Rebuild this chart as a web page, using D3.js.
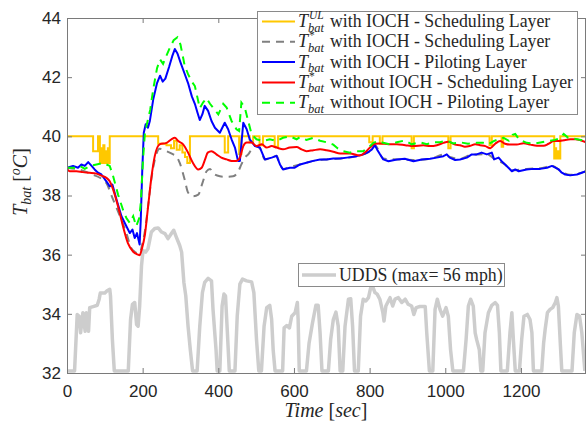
<!DOCTYPE html>
<html>
<head>
<meta charset="utf-8">
<script src="https://d3js.org/d3.v7.min.js"></script>
<style>
  body { margin: 0; background: #fff; }
  svg text { font-family: "Liberation Serif", "Times New Roman", serif; fill: #262626; }
  .tick text { font-family: "Liberation Sans", Arial, sans-serif; font-size: 17px; fill: #262626; }
  .tick line { stroke: #7a7a7a; }
</style>
</head>
<body>
<script>
// ---- data: [time (s), temperature (degC)] ----
var xTicks = [0, 200, 400, 600, 800, 1000, 1200];
var yTicks = [32, 34, 36, 38, 40, 42, 44];

// T_bat^UL with IOCH (scheduling layer), piecewise constant
var ulWithIoch = [[0,40],[69,39.5],[82,40],[87,39.1],[90,39.6],[93,39.1],[96,39.7],[99,39.1],[102,39.5],[105,39.1],[108,39.6],[111,39.1],[113,40],
  [241,39.75],[263,39.7],[275,39.6],[283,39.85],[290,39.55],[298,39.7],[305,39.45],[312,39.3],[318,39.1],[325,40],
  [417,39.45],[426,40],[455,39.4],[461,40],[483,39.8],[492,40],[509,39.7],[518,40],[549,39.65],[558,40],
  [799,39.8],[808,40],[827,39.75],[834,40],[911,39.6],[917,40],[1008,39.6],[1014,40],[1117,39.7],[1123,40],
  [1149,39.65],[1153,40],[1288,39.25],[1290,39.6],[1293,39.25],[1296,39.5],[1299,39.25],[1304,40],[1372,40]];

// T_bat* with IOCH (scheduling layer)
var schedWithIoch = [[0,38.94],[20,38.9],[40,38.85],[69,38.7],[87,38.6],[104,38.42],[122,37.86],[140,37.3],[157,36.73],[170,36.22],
  [179,36.1],[188,36.05],[192,36.05],[198,36.3],[206,36.8],[214,37.6],[223,38.55],[232,39.2],[245,39.58],[263,39.5],[281,39.39],
  [289,39.33],[298,39.1],[311,38.54],[320,38.1],[333,37.97],[347,38.03],[358,38.42],[369,38.82],[378,38.9],[386,38.75],[404,38.65],
  [422,38.63],[439,38.65],[453,38.82],[461,39.05],[470,39.28],[479,39.39],[490,39.6],[497,39.67],[510,39.6],[523,39.22],[541,39.28],
  [554,39.34],[563,39.05],[571,38.9],[589,38.96],[616,39.05],[651,39.17],[686,39.22],[722,39.25],[766,39.33],[797,39.47],[814,39.7],
  [836,39.25],[872,39.22],[916,39.2],[960,39.24],[995,39.38],[1012,39.3],[1039,39.24],[1070,39.38],[1110,39.4],[1129,39.24],
  [1158,39.05],[1176,38.85],[1215,38.9],[1251,38.92],[1282,39.0],[1308,38.8],[1330,38.7],[1372,38.82]];

// T_bat with IOCH (piloting layer)
var pilotWithIoch = [[0,38.94],[16,39.0],[29,38.94],[38,39.05],[47,39.0],[56,39.13],[65,39.0],[73,38.88],[82,38.77],[91,38.71],
  [104,38.48],[113,38.31],[120,38.37],[131,37.86],[144,37.3],[157,36.96],[166,36.73],[173,36.85],[179,36.56],[185,36.73],[192,36.34],
  [195,37.19],[199,38.88],[203,40.12],[208,40.41],[214,40.29],[219,40.52],[228,41.25],[238,41.8],[246,42.05],[253,41.85],[260,41.95],
  [270,42.35],[278,42.7],[285,42.95],[292,42.8],[300,42.5],[310,42.15],[320,41.8],[330,41.35],[338,41.1],[345,40.8],[351,40.55],
  [358,40.75],[364,41.03],[373,40.86],[382,40.52],[391,40.29],[404,40.12],[417,40.46],[426,40.24],[435,39.9],[444,39.62],[452,39.17],
  [457,39.17],[466,40.46],[475,40.24],[483,39.9],[497,39.67],[510,39.62],[523,39.22],[541,39.28],[554,39.34],[563,39.05],[571,38.88],
  [589,38.94],[602,38.94],[616,39.05],[633,39.11],[651,39.17],[669,39.22],[686,39.22],[704,39.25],[722,39.25],[740,39.28],[766,39.33],
  [783,39.39],[797,39.47],[806,39.56],[814,39.7],[820,39.55],[827,39.4],[836,39.22],[850,39.16],[872,39.22],[893,39.24],[916,39.16],
  [938,39.22],[960,39.24],[977,39.28],[995,39.33],[1004,39.39],[1012,39.28],[1026,39.2],[1039,39.22],[1057,39.28],[1070,39.39],
  [1083,39.39],[1096,39.45],[1110,39.39],[1123,39.45],[1129,39.22],[1141,39.28],[1149,39.16],[1158,39.05],[1167,38.94],[1176,38.82],
  [1185,38.88],[1194,38.82],[1215,38.88],[1233,38.9],[1251,38.9],[1269,38.94],[1282,39.0],[1291,38.94],[1300,38.88],[1308,38.77],
  [1317,38.71],[1330,38.68],[1348,38.71],[1361,38.77],[1372,38.82]];

// T_bat* without IOCH (scheduling layer)
var schedNoIoch = [[0,38.9],[7,38.82],[25,38.82],[42,38.79],[60,38.77],[78,38.74],[91,38.67],[104,38.6],[113,38.48],[122,38.2],
  [135,37.63],[148,36.96],[161,36.39],[175,36.1],[188,36.0],[192,35.98],[198,36.2],[206,36.68],[214,37.58],[223,38.6],[232,39.33],
  [245,39.73],[263,39.78],[276,39.9],[285,39.95],[294,39.84],[307,39.73],[320,39.45],[333,39.1],[347,38.88],[356,38.94],[365,39.22],
  [372,39.45],[382,39.5],[395,39.39],[408,39.28],[422,39.22],[435,39.17],[448,39.17],[457,39.28],[466,39.67],[475,39.79],[488,39.79],
  [501,39.67],[515,39.73],[528,39.62],[541,39.67],[554,39.62],[571,39.56],[589,39.62],[607,39.64],[620,39.56],[633,39.5],[651,39.53],
  [669,39.56],[686,39.53],[704,39.48],[722,39.42],[748,39.42],[774,39.35],[787,39.45],[801,39.62],[814,39.75],[827,39.76],[850,39.73],
  [872,39.73],[894,39.7],[916,39.67],[942,39.7],[960,39.67],[978,39.7],[995,39.78],[1008,39.82],[1026,39.72],[1039,39.7],[1052,39.65],
  [1066,39.68],[1079,39.73],[1092,39.7],[1106,39.67],[1119,39.6],[1132,39.75],[1145,39.84],[1158,39.75],[1172,39.72],[1189,39.72],
  [1207,39.77],[1225,39.72],[1242,39.68],[1260,39.68],[1273,39.75],[1287,39.84],[1300,39.84],[1313,39.87],[1331,39.9],[1344,39.9],
  [1357,39.87],[1372,39.8]];

// T_bat without IOCH (piloting layer)
var pilotNoIoch = [[0,38.94],[20,38.94],[34,39.0],[47,38.9],[60,39.0],[78,39.05],[95,39.1],[113,39.0],[122,38.65],[135,38.03],
  [148,37.52],[157,37.24],[166,37.07],[175,37.3],[183,36.96],[191,37.24],[195,37.75],[201,39.22],[206,40.12],[212,40.46],[220,40.9],
  [228,41.6],[238,42.3],[246,42.6],[254,42.45],[262,42.7],[272,43.0],[282,43.25],[292,43.35],[300,43.1],[311,42.4],[320,42.1],
  [330,41.85],[338,41.7],[345,41.3],[351,40.95],[360,41.15],[369,41.29],[378,41.1],[386,40.97],[400,40.74],[413,41.1],[422,40.97],
  [435,40.52],[448,40.24],[455,40.18],[461,41.14],[470,40.97],[479,40.52],[488,40.07],[501,39.9],[518,39.84],[536,39.9],[554,39.84],
  [571,39.95],[589,40.0],[607,39.9],[615,39.97],[633,39.88],[651,39.95],[669,39.85],[686,39.8],[704,39.72],[715,39.6],[730,39.5],
  [748,39.45],[766,39.5],[783,39.5],[797,39.62],[810,39.78],[823,39.84],[836,39.78],[854,39.73],[872,39.8],[893,39.86],[911,39.73],
  [933,39.8],[951,39.73],[968,39.8],[986,39.8],[1004,39.86],[1021,39.76],[1039,39.8],[1060,39.75],[1083,39.78],[1100,39.78],
  [1114,39.73],[1128,39.84],[1141,39.9],[1154,39.95],[1168,39.85],[1178,40.05],[1185,40.08],[1195,39.9],[1215,39.78],[1235,39.75],
  [1255,39.8],[1270,39.84],[1290,39.88],[1305,39.95],[1313,40.08],[1325,39.95],[1348,39.9],[1372,39.85]];

// UDDS drive cycle: [time (s), speed (mph)], drawn scaled onto the temperature axis
var uddsSpeed = [[0,0],[20,0],[27,22.2],[32,21.5],[36,15],[42,22.9],[48,15.6],[51,22.9],[57,15.6],[60,24.9],[69,25.3],[80,25.8],
  [85,28.2],[88,30.6],[100,30.6],[106,31.5],[113,32.1],[115,29.5],[120,12.3],[125,0],[162,0],[168,20.2],[173,26.2],[179,26.9],
  [184,18.2],[188,17.6],[192,25.5],[197,41.4],[201,47.4],[208,46.7],[214,48],[223,54.6],[232,56],[241,56.2],[250,54.6],[259,54],
  [267,52],[276,54],[282,55.3],[289,52.6],[298,49.3],[303,46.7],[309,34.8],[314,29.5],[320,17.6],[326,8.3],[332,0],[344,0],
  [351,17.6],[358,30.8],[364,34.8],[373,36.4],[382,35.4],[386,24.2],[394,8.3],[397,0],[404,0],[410,25.5],[415,30.2],[419,29.5],
  [424,15],[429,0],[444,0],[450,21.5],[457,34.1],[464,36.1],[475,35.4],[488,35],[494,30.8],[501,12.3],[507,0],[514,0],[521,17.6],
  [528,24.9],[536,25.8],[541,20.2],[545,8.3],[550,0],[570,0],[574,16.9],[581,17.8],[588,16.9],[594,21.5],[603,22.9],[609,26.9],
  [611,20.2],[614,0],[633,0],[640,11],[649,18.9],[658,25.8],[664,25.8],[669,15],[674,0],[691,0],[697,12.3],[704,20.2],[711,23.1],
  [717,17.6],[722,0],[729,0],[735,17.6],[744,28.2],[750,28.4],[755,17.6],[760,0],[770,0],[776,21.5],[783,28.2],[790,27.5],[797,28.8],
  [803,32.8],[808,33.2],[814,30.8],[820,30.2],[827,28.2],[835,22.9],[838,19.6],[843,25.5],[854,28.8],[861,25.5],[867,28.2],[876,28.8],
  [885,26.9],[894,28.2],[902,26.2],[911,25.5],[917,22.2],[923,24.9],[933,25.3],[947,25.3],[951,15],[958,0],[967,0],[973,24.2],
  [979,28.2],[986,24.2],[993,21.5],[1002,24.9],[1008,21.5],[1014,8.3],[1020,0],[1048,0],[1055,12.3],[1061,25.5],[1067,28.2],
  [1074,25.5],[1079,15],[1083,12.3],[1090,8.3],[1094,0],[1099,0],[1105,15],[1114,22.9],[1123,25.8],[1132,26.9],[1138,25.8],[1143,15],
  [1147,0],[1164,0],[1171,15],[1176,22.9],[1180,12.3],[1185,0],[1196,0],[1202,12.3],[1208,21.5],[1217,22.2],[1224,20.2],[1229,15],
  [1233,0],[1255,0],[1260,11],[1264,16.3],[1270,22.9],[1277,24.2],[1284,24.9],[1291,26.9],[1295,28.8],[1299,25.5],[1304,11],[1308,0],
  [1335,0],[1341,15],[1348,22.2],[1355,21.5],[1361,15],[1369,0]];
var uddsBase = 32.07, uddsGain = 0.086;   // speed -> axis units

var legendSup = ["UL", "*", "", "*", ""];
var legendText = ["with IOCH - Scheduling Layer", "with IOCH - Scheduling Layer", "with IOCH - Piloting Layer",
                  "without IOCH - Scheduling Layer", "without IOCH - Piloting Layer"];

// ---- chart ----
var width = 587, height = 423;
var padL = 67, padR = 586, padT = 18, padB = 373;

var svg = d3.select("body").append("svg")
    .attr("width", width).attr("height", height);

var x = d3.scaleLinear().domain([0, 1372]).range([padL, padR]);
var y = d3.scaleLinear().domain([32, 44]).range([padB, padT]);

svg.append("clipPath").attr("id", "clip")
  .append("rect").attr("x", padL).attr("y", padT).attr("width", padR - padL).attr("height", padB - padT);

var line = d3.line().x(function(d) { return x(d[0]); }).y(function(d) { return y(d[1]); });
var stepLine = d3.line().curve(d3.curveStepAfter)
    .x(function(d) { return x(d[0]); }).y(function(d) { return y(d[1]); });
var smoothLine = d3.line().curve(d3.curveMonotoneX)
    .x(function(d) { return x(d[0]); }).y(function(d) { return y(d[1]); });
var uddsLine = d3.line().x(function(d) { return x(d[0]); })
    .y(function(d) { return y(uddsBase + d[1] * uddsGain); });

var plot = svg.append("g").attr("clip-path", "url(#clip)");

plot.append("path").datum(uddsSpeed).attr("d", uddsLine)
    .attr("fill", "none").attr("stroke", "#cdcdcd").attr("stroke-width", 3.5).attr("stroke-linejoin", "round");
plot.append("path").datum(ulWithIoch).attr("d", stepLine)
    .attr("fill", "none").attr("stroke", "#ffc800").attr("stroke-width", 2);
plot.append("path").datum(schedWithIoch).attr("d", smoothLine)
    .attr("fill", "none").attr("stroke", "#808080").attr("stroke-width", 2).attr("stroke-dasharray", "8,6");
plot.append("path").datum(pilotWithIoch).attr("d", line)
    .attr("fill", "none").attr("stroke", "#0000ff").attr("stroke-width", 2).attr("stroke-linejoin", "round");
plot.append("path").datum(schedNoIoch).attr("d", smoothLine)
    .attr("fill", "none").attr("stroke", "#ff0000").attr("stroke-width", 2);
plot.append("path").datum(pilotNoIoch).attr("d", line)
    .attr("fill", "none").attr("stroke", "#00ff00").attr("stroke-width", 2).attr("stroke-dasharray", "8,6");

// axes box and inward ticks (MATLAB style)
svg.append("rect").attr("x", padL + 0.5).attr("y", padT + 0.5)
    .attr("width", padR - padL - 1).attr("height", padB - padT)
    .attr("fill", "none").attr("stroke", "#7a7a7a");

function noDomain(g) { g.select(".domain").remove(); }
svg.append("g").attr("transform", "translate(0," + padB + ")")
    .call(d3.axisBottom(x).tickValues(xTicks).tickFormat(d3.format("d"))
      .tickSizeInner(-5).tickSizeOuter(0).tickPadding(12)).call(noDomain);
svg.append("g").attr("transform", "translate(0," + padT + ")")
    .call(d3.axisTop(x).tickValues(xTicks).tickSizeInner(-5).tickSizeOuter(0).tickFormat("")).call(noDomain);
svg.append("g").attr("transform", "translate(" + padL + ",0)")
    .call(d3.axisLeft(y).tickValues(yTicks).tickSizeInner(-5).tickSizeOuter(0).tickPadding(6)).call(noDomain);
svg.append("g").attr("transform", "translate(" + padR + ",0)")
    .call(d3.axisRight(y).tickValues(yTicks).tickSizeInner(-5).tickSizeOuter(0).tickFormat("")).call(noDomain);

// axis titles
var xl = svg.append("text").attr("x", 326).attr("y", 417).attr("text-anchor", "middle").style("font-size", "20px");
xl.append("tspan").style("font-style", "italic").text("Time ");
xl.append("tspan").text("[");
xl.append("tspan").style("font-style", "italic").text("sec");
xl.append("tspan").text("]");

var yl = svg.append("text").attr("transform", "translate(27,182) rotate(-90)")
    .attr("text-anchor", "middle").style("font-size", "20px");
yl.append("tspan").style("font-style", "italic").text("T");
yl.append("tspan").style("font-style", "italic").style("font-size", "14px").attr("dy", 4).text("bat");
yl.append("tspan").attr("dy", -4).text(" [");
yl.append("tspan").style("font-size", "14px").style("font-style", "italic").attr("dy", -7).text("o");
yl.append("tspan").style("font-style", "italic").attr("dy", 7).text("C");
yl.append("tspan").text("]");

// main legend
var lg = svg.append("g");
lg.append("rect").attr("x", 257.5).attr("y", 11.5).attr("width", 320).attr("height", 103)
    .attr("fill", "#fff").attr("stroke", "#8a8a8a");
var legStroke = ["#ffc800", "#808080", "#0000ff", "#ff0000", "#00ff00"];
var legDash = [null, "8,6", null, null, "8,6"];
legendText.forEach(function(t, i) {
  var cy = 21.5 + i * 20.3;
  lg.append("line").attr("x1", 262).attr("x2", 295).attr("y1", cy).attr("y2", cy)
    .attr("stroke", legStroke[i]).attr("stroke-width", 2).attr("stroke-dasharray", legDash[i]);
  var T = lg.append("text").attr("x", 298).attr("y", cy + 5.5).style("font-size", "18px")
      .style("font-style", "italic").text("T");
  var tw = T.node().getComputedTextLength();
  var sub = lg.append("text").attr("x", 298 + tw).attr("y", cy + 10).style("font-size", "12.5px")
      .style("font-style", "italic").text("bat");
  var sw = sub.node().getComputedTextLength();
  if (legendSup[i]) {
    lg.append("text").attr("x", 298 + tw + 1).attr("y", cy - 2.5).style("font-size", "11.5px")
      .style("font-style", legendSup[i] === "*" ? "normal" : "italic").text(legendSup[i]);
  }
  lg.append("text").attr("x", 298 + tw + sw + 6).attr("y", cy + 5.5).style("font-size", "17.8px").text(t);
});

// drive cycle legend
var ug = svg.append("g");
ug.append("rect").attr("x", 298.5).attr("y", 263.5).attr("width", 206).attr("height", 23)
    .attr("fill", "#fff").attr("stroke", "#8a8a8a");
ug.append("line").attr("x1", 302).attr("x2", 336).attr("y1", 275).attr("y2", 275)
    .attr("stroke", "#cdcdcd").attr("stroke-width", 3.5);
ug.append("text").attr("x", 339).attr("y", 280.5).style("font-size", "17.8px").text("UDDS (max= 56 mph)");
</script>
</body>
</html>
